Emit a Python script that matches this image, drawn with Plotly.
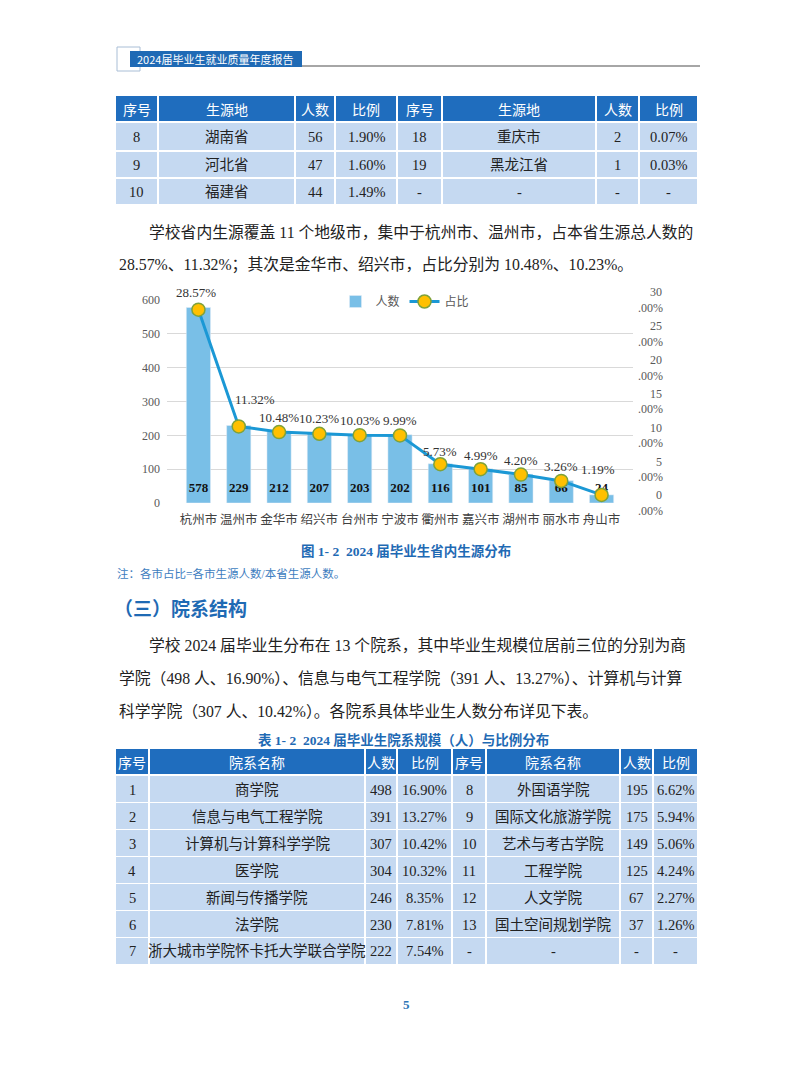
import plotly.graph_objects as go

W, H = 793, 1077

# ---------------- data ----------------
cities = ["杭州市", "温州市", "金华市", "绍兴市", "台州市", "宁波市",
          "衢州市", "嘉兴市", "湖州市", "丽水市", "舟山市"]
counts = [578, 229, 212, 207, 203, 202, 116, 101, 85, 66, 24]
shares = [28.57, 11.32, 10.48, 10.23, 10.03, 9.99, 5.73, 4.99, 4.20, 3.26, 1.19]
left_ticks = [0, 100, 200, 300, 400, 500, 600]
right_ticks = [0, 5, 10, 15, 20, 25, 30]

t1_header = ["序号", "生源地", "人数", "比例", "序号", "生源地", "人数", "比例"]
t1_no_l = ["8", "9", "10"]
t1_place_l = ["湖南省", "河北省", "福建省"]
t1_cnt_l = ["56", "47", "44"]
t1_ratio_l = ["1.90%", "1.60%", "1.49%"]
t1_no_r = ["18", "19", "-"]
t1_place_r = ["重庆市", "黑龙江省", "-"]
t1_cnt_r = ["2", "1", "-"]
t1_ratio_r = ["0.07%", "0.03%", "-"]

t2_header = ["序号", "院系名称", "人数", "比例", "序号", "院系名称", "人数", "比例"]
t2_no_l = ["1", "2", "3", "4", "5", "6", "7"]
t2_dept_l = ["商学院", "信息与电气工程学院", "计算机与计算科学学院", "医学院",
             "新闻与传播学院", "法学院", "浙大城市学院怀卡托大学联合学院"]
t2_cnt_l = ["498", "391", "307", "304", "246", "230", "222"]
t2_ratio_l = ["16.90%", "13.27%", "10.42%", "10.32%", "8.35%", "7.81%", "7.54%"]
t2_no_r = ["8", "9", "10", "11", "12", "13", "-"]
t2_dept_r = ["外国语学院", "国际文化旅游学院", "艺术与考古学院", "工程学院",
             "人文学院", "国土空间规划学院", "-"]
t2_cnt_r = ["195", "175", "149", "125", "67", "37", "-"]
t2_ratio_r = ["6.62%", "5.94%", "5.06%", "4.24%", "2.27%", "1.26%", "-"]

# ---------------- styles ----------------
SERIF = "Liberation Serif, Noto Sans CJK SC"
SANS = "Noto Sans CJK SC"
HEAD_BLUE = "#1F6DBE"
CELL_BLUE = "#C5D9F1"
TEXT_DARK = "#222222"
CAP_BLUE = "#1F6AB4"
AXIS_GRAY = "#595959"
# pixel offsets of the percentage labels relative to their markers (style only)
label_dx = [-2, 16, 0, 0, 0, 0, 0, 0, 0, 0, -4]
label_dy = [17, 27, 15, 15, 15, 15, 13, 14, 14, 14, 25]


def X(p):
    return p / W


def Y(p):
    return 1 - p / H


shapes = []
annotations = []


def text(x, y, s, size, color=TEXT_DARK, family=SERIF, anchor="center", bold=False):
    if bold:
        s = "<b>" + s + "</b>"
    annotations.append(dict(x=X(x), y=Y(y), xref="paper", yref="paper", text=s,
                            showarrow=False, xanchor=anchor, yanchor="middle",
                            font=dict(size=size, color=color, family=family)))


def rect(x0, y0, x1, y1, fill, line_color=None, line_width=0):
    shapes.append(dict(type="rect", xref="paper", yref="paper",
                       x0=X(x0), x1=X(x1), y0=Y(y1), y1=Y(y0),
                       fillcolor=fill, line=dict(width=line_width, color=line_color or fill),
                       layer="below"))


def table(cols, rows, header, columns_data, data_size=14.5):
    hy0, hy1 = rows[0]
    for (x0, x1), h in zip(cols, header):
        rect(x0, hy0, x1, hy1, HEAD_BLUE)
        text((x0 + x1) / 2, (hy0 + hy1) / 2 + 0.5, h, 14, "white", SANS)
    for ci, ((x0, x1), col) in enumerate(zip(cols, columns_data)):
        for ri, val in enumerate(col):
            y0, y1 = rows[ri + 1]
            rect(x0, y0, x1, y1, CELL_BLUE)
            text((x0 + x1) / 2, (y0 + y1) / 2 + 0.5, val, data_size, TEXT_DARK, SERIF)


# ---------------- page header ----------------
rect(117, 47, 140, 71, "rgba(0,0,0,0)", "#A9BED6", 1)
rect(130, 51, 302, 67, "#1F6AB5")
shapes.append(dict(type="line", xref="paper", yref="paper", x0=X(302), x1=X(700),
                   y0=Y(66), y1=Y(66), line=dict(color="#A6A6A6", width=2)))
text(135, 59, "2024届毕业生就业质量年度报告", 11, "white", SANS, anchor="left")

# ---------------- table 1 ----------------
t1_cols = [(116, 157), (159, 294), (296, 334), (336, 396), (398, 441), (443, 595), (597, 638), (640, 697)]
t1_rows = [(96, 121), (123, 150), (152, 177), (179, 204)]
table(t1_cols, t1_rows, t1_header,
      [t1_no_l, t1_place_l, t1_cnt_l, t1_ratio_l, t1_no_r, t1_place_r, t1_cnt_r, t1_ratio_r])

# ---------------- paragraph 1 ----------------
text(147, 232, "学校省内生源覆盖 11 个地级市，集中于杭州市、温州市，占本省生源总人数的", 15.8, anchor="left")
text(117, 265, "28.57%、11.32%；其次是金华市、绍兴市，占比分别为 10.48%、10.23%。", 15.8, anchor="left")

# ---------------- captions / headings ----------------
text(406, 551, "图 1- 2  2024 届毕业生省内生源分布", 13.5, CAP_BLUE, SERIF, bold=True)
text(115, 573, "注：各市占比=各市生源人数/本省生源人数。", 11.5, "#3D7DC0", SERIF, anchor="left")
text(112, 607, "（三）院系结构", 19, CAP_BLUE, SANS, anchor="left", bold=True)

text(147, 645, "学校 2024 届毕业生分布在 13 个院系，其中毕业生规模位居前三位的分别为商", 15.8, anchor="left")
text(117, 678, "学院（498 人、16.90%）、信息与电气工程学院（391 人、13.27%）、计算机与计算", 15.8, anchor="left")
text(117, 711, "科学学院（307 人、10.42%）。各院系具体毕业生人数分布详见下表。", 15.8, anchor="left")

text(403, 740, "表 1- 2  2024 届毕业生院系规模（人）与比例分布", 13.5, CAP_BLUE, SERIF, bold=True)

# ---------------- table 2 ----------------
t2_cols = [(116, 148), (150, 364), (366, 396), (398, 451), (453, 485), (487, 619), (621, 652), (654, 697)]
t2_rows = [(749, 774)] + [(776 + 27 * i, 802 + 27 * i) for i in range(7)]
table(t2_cols, t2_rows, t2_header,
      [t2_no_l, t2_dept_l, t2_cnt_l, t2_ratio_l, t2_no_r, t2_dept_r, t2_cnt_r, t2_ratio_r])

text(406, 1004, "5", 13, "#2E75B6", SERIF, bold=True)

# ---------------- percentage labels (data-anchored annotations) ----------------
for c, s, dx, dy in zip(cities, shares, label_dx, label_dy):
    annotations.append(dict(x=c, y=s, xref="x", yref="y2", text=f"{s:.2f}%",
                            showarrow=False, xshift=dx, yshift=dy,
                            xanchor="center", yanchor="middle",
                            font=dict(size=13, color="#333333", family=SERIF)))

# ---------------- chart ----------------
fig = go.Figure()
fig.add_trace(go.Bar(x=cities, y=counts, name="人数", marker_color="#79BFE7",
                     width=0.6, yaxis="y", xaxis="x"))
label_y = [42] * len(counts)
fig.add_trace(go.Scatter(x=cities, y=label_y, mode="text", text=[str(c) for c in counts],
                         textfont=dict(size=13, color="#111111", family=SERIF),
                         texttemplate="<b>%{text}</b>", showlegend=False, hoverinfo="skip",
                         yaxis="y", xaxis="x"))
fig.add_trace(go.Scatter(x=cities, y=shares, name="占比", mode="lines+markers",
                         yaxis="y2", xaxis="x",
                         line=dict(color="#1B98D5", width=3),
                         marker=dict(size=13, color="#FFC000", line=dict(color="#7FA23A", width=1.5))))

pad = {0: "&nbsp;&nbsp;&nbsp;&nbsp;&nbsp;&nbsp;", 5: "&nbsp;&nbsp;&nbsp;&nbsp;&nbsp;&nbsp;"}
right_text = [f"{pad.get(v, '&nbsp;&nbsp;&nbsp;&nbsp;')}{v}<br>.00%" for v in right_ticks]

fig.update_layout(
    width=W, height=H, margin=dict(l=0, r=0, t=0, b=0, autoexpand=False),
    autosize=False,
    paper_bgcolor="white", plot_bgcolor="white",
    shapes=shapes, annotations=annotations,
    showlegend=True,
    legend=dict(orientation="h", x=X(405), xanchor="center", y=Y(287), yanchor="top",
                font=dict(size=12, color=AXIS_GRAY, family=SANS), bgcolor="rgba(0,0,0,0)",
                itemwidth=30, tracegroupgap=0),
    bargap=0.4,
    xaxis=dict(domain=[X(167), X(633)], anchor="y", showgrid=False, showline=False,
               automargin=False, tickangle=0, ticklabelstandoff=7,
               tickfont=dict(size=12.5, color="#404040", family=SERIF), ticks=""),
    yaxis=dict(domain=[Y(503), Y(300)], range=[0, 600], tickvals=left_ticks, automargin=False,
               showgrid=True, gridcolor="#D9D9D9", gridwidth=1, zeroline=False, showline=False,
               tickfont=dict(size=12, color=AXIS_GRAY, family=SERIF), ticklabelstandoff=6),
    yaxis2=dict(overlaying="y", side="right", anchor="x", range=[0, 30], tickvals=right_ticks,
                ticktext=right_text, showgrid=False, zeroline=False, showline=False,
                automargin=False,
                tickfont=dict(size=12, color=AXIS_GRAY, family=SERIF), ticklabelstandoff=4),
)

fig.write_html("out.html")
